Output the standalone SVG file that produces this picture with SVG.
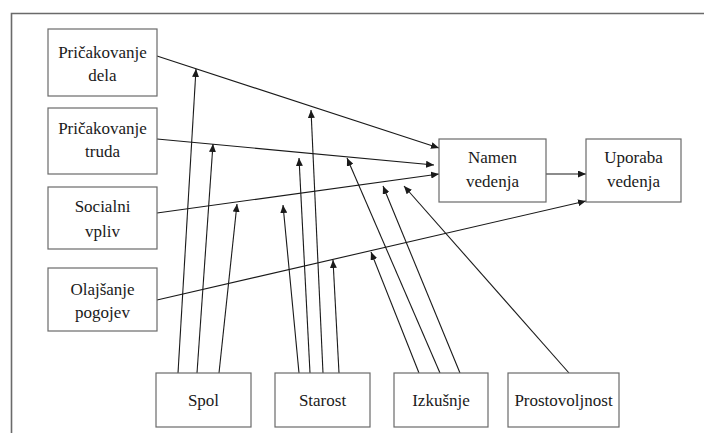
<svg xmlns="http://www.w3.org/2000/svg" width="704" height="433" viewBox="0 0 704 433">
<defs>
<style>
.box{fill:#fff;stroke:#6a6a6a;stroke-width:1.2}
.t{font-family:'Liberation Serif','Times New Roman',serif;font-size:17px;fill:#1a1a1a;text-anchor:middle}
.c{stroke:#1a1a1a;stroke-width:1.1;fill:none;marker-end:url(#ah)}
</style>
<marker id="ah" markerUnits="userSpaceOnUse" markerWidth="9" markerHeight="7" refX="8" refY="3.5" orient="auto">
<path d="M0,0 L8,3.5 L0,7 z" fill="#1a1a1a"/>
</marker>
</defs>
<rect width="704" height="433" fill="#fff"/>
<path d="M11.5,433 L11.5,13.5 L704,13.5" fill="none" stroke="#6a6a6a" stroke-width="1.6"/>
<g id="connectors">
<path class="c" d="M157,56 L439,148"/>
<path class="c" d="M157,139 L434,165"/>
<path class="c" d="M157,213 L439,174"/>
<path class="c" d="M157,300 L586,201"/>
<path class="c" d="M546,174 L586,174"/>
<path class="c" d="M178,373 L196,69"/>
<path class="c" d="M197,373 L213,144"/>
<path class="c" d="M219,373 L237,204"/>
<path class="c" d="M299,373 L283,205"/>
<path class="c" d="M310,373 L299,158"/>
<path class="c" d="M323,373 L311,110"/>
<path class="c" d="M339,373 L333,260"/>
<path class="c" d="M419,373 L371,252"/>
<path class="c" d="M440,373 L347,158"/>
<path class="c" d="M460,373 L383,186"/>
<path class="c" d="M569,373 L404,186"/>
</g>
<g id="pricakovanje-dela"><rect class="box" x="48" y="29" width="109" height="67"/><text class="t" x="102.5" y="58">Pričakovanje</text><text class="t" x="102.5" y="81">dela</text></g>
<g id="pricakovanje-truda"><rect class="box" x="48" y="108" width="109" height="66"/><text class="t" x="102.5" y="134">Pričakovanje</text><text class="t" x="102.5" y="157">truda</text></g>
<g id="socialni-vpliv"><rect class="box" x="48" y="187" width="109" height="62"/><text class="t" x="102.5" y="212">Socialni</text><text class="t" x="102.5" y="237">vpliv</text></g>
<g id="olajsanje-pogojev"><rect class="box" x="48" y="268" width="109" height="63"/><text class="t" x="102.5" y="295">Olajšanje</text><text class="t" x="102.5" y="318">pogojev</text></g>
<g id="namen-vedenja"><rect class="box" x="439" y="139" width="107" height="63"/><text class="t" x="492.5" y="163">Namen</text><text class="t" x="492.5" y="187">vedenja</text></g>
<g id="uporaba-vedenja"><rect class="box" x="586" y="139" width="95" height="63"/><text class="t" x="633.5" y="163">Uporaba</text><text class="t" x="633.5" y="187">vedenja</text></g>
<g id="spol"><rect class="box" x="156" y="373" width="95" height="54"/><text class="t" x="203.5" y="406">Spol</text></g>
<g id="starost"><rect class="box" x="275" y="373" width="95" height="54"/><text class="t" x="322.5" y="406">Starost</text></g>
<g id="izkusnje"><rect class="box" x="394" y="373" width="94" height="54"/><text class="t" x="441" y="406">Izkušnje</text></g>
<g id="prostovoljnost"><rect class="box" x="508" y="373" width="111" height="54"/><text class="t" x="563.5" y="406">Prostovoljnost</text></g>
</svg>
